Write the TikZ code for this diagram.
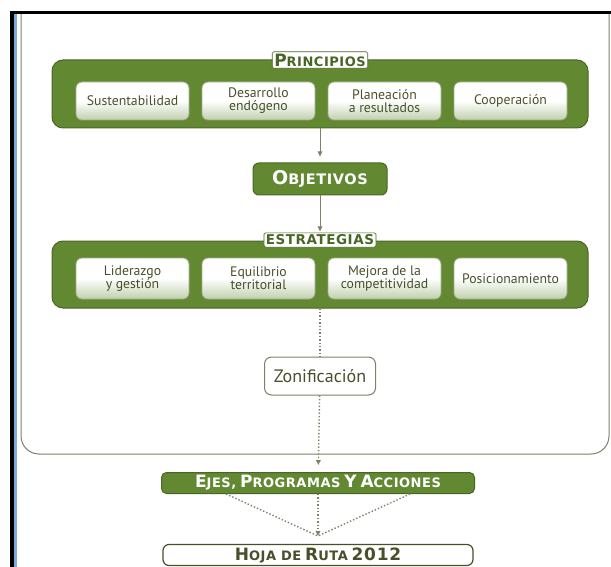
\documentclass[tikz,border=0pt]{standalone}
\usepackage{fontspec}
\setmainfont{PT Sans}
\newfontfamily\titfont[LetterSpace=4.0]{DejaVu Sans}
\usetikzlibrary{arrows.meta}
\definecolor{verde}{RGB}{98,136,50}
\definecolor{verdeosc}{RGB}{74,102,38}
\definecolor{oliva}{RGB}{72,80,42}
\definecolor{gris}{RGB}{128,128,104}
\definecolor{azul}{RGB}{122,172,222}
\newcommand{\vers}[2]{{\fontsize{17}{17}\selectfont #1}{\fontsize{13}{13}\selectfont #2}}

\begin{document}
\begin{tikzpicture}[x=1pt,y=-1pt]
  \tikzset{grupo style/.style = {draw=verdeosc, fill=verde, rounded corners=11pt, line width=1pt, minimum width=536pt},
    caja style/.style = {draw=verdeosc!55, rounded corners=6pt, line width=0.8pt, top color=white, bottom color=verde!40, middle color=white, minimum width=113pt, text=oliva, align=center, font=\fontsize{13.75}{13}\selectfont},
    etiqueta style/.style = {fill=white, draw=verdeosc, line width=0.6pt, rounded corners=1.5pt, inner sep=2pt, text=verdeosc, font=\titfont\bfseries},
    verde style/.style = {fill=verde, draw=verdeosc, line width=1pt, rounded corners=6pt, text=white, font=\titfont\bfseries},
    flecha/.style = {draw=gris, line width=1pt, -{Triangle[length=5pt,width=4.5pt]}},
    punteado/.style = {draw=gris, line width=1.4pt, dotted}}
  \useasboundingbox (0,0) rectangle (611,567);
  \fill[white] (0,0) rectangle (611,567);
  \draw[line width=3pt] (10,12.5) -- (611,12.5);
  \draw[line width=4pt] (12,11) -- (12,567);
  \draw[azul, line width=2.5pt] (15.5,14) -- (15.5,567);
  \draw[gris, line width=1pt, rounded corners=18pt] (21,14) -- (21,454) -- (609,454) -- (609,14);

  \node[grupo style, minimum height=68pt] (principios) at (320,94) {};
  \node[etiqueta style] (lprincipios) at (320,60) {\vers{P}{RINCIPIOS}};
  \node[caja style, minimum height=38pt] (p1) at (132.5,101) {Sustentabilidad};
  \node[caja style, minimum height=38pt] (p2) at (258.5,101) {Desarrollo\\endógeno};
  \node[caja style, minimum height=38pt] (p3) at (384.5,101) {Planeación\\a resultados};
  \node[caja style, minimum height=38pt] (p4) at (510.5,101) {Cooperación};

  \node[verde style, minimum width=134pt, minimum height=32pt] (objetivos) at (320,179) {{\fontsize{19}{19}\selectfont O}{\fontsize{14.5}{14.5}\selectfont BJETIVOS}};

  \node[grupo style, minimum height=67pt] (estrategias) at (320,274.5) {};
  \node[etiqueta style, font=\titfont\bfseries\fontsize{13.5}{14}\selectfont] (lestrategias) at (320,240) {ESTRATEGIAS};
  \node[caja style, minimum height=41pt] (e1) at (132.5,278.5) {Liderazgo\\y gestión};
  \node[caja style, minimum height=41pt] (e2) at (258.5,278.5) {Equilibrio\\territorial};
  \node[caja style, minimum height=41pt] (e3) at (384.5,278.5) {Mejora de la\\competitividad};
  \node[caja style, minimum height=41pt] (e4) at (510.5,278.5) {Posicionamiento};

  \node[draw=gris, line width=1pt, rounded corners=7pt, fill=white, minimum width=111pt, minimum height=38pt, text=oliva, font=\fontsize{18}{18}\selectfont] (zonificacion) at (320,376) {Zonificación};

  \node[verde style, rounded corners=5pt, minimum width=313pt, minimum height=21pt, inner sep=1pt] (ejes) at (318,483) {\vers{E}{JES,} \vers{P}{ROGRAMAS} \vers{Y}{} \vers{A}{CCIONES}};
  \node[draw=oliva, line width=1.2pt, rounded corners=6pt, fill=white, minimum width=310pt, minimum height=21pt, inner sep=1pt, text=oliva, font=\titfont\bfseries] (hoja) at (318,555) {\vers{H}{OJA DE} \vers{R}{UTA} {\fontsize{17}{17}\selectfont 2012}};
  \coordinate (conv) at (318,536);

  \draw[flecha, shorten >=6pt] (principios) -- (objetivos);
  \draw[flecha, shorten >=9pt] (objetivos) -- (estrategias);
  \draw[punteado] (estrategias) -- (zonificacion);
  \draw[punteado, -{Triangle[length=5pt,width=4.5pt]}, shorten >=7pt] (zonificacion) -- (ejes);
  \draw[punteado] ([xshift=-92pt]ejes.south) -- (conv);
  \draw[punteado] ([xshift=92pt]ejes.south) -- (conv);
  \draw[punteado, -{Triangle[length=5pt,width=4.5pt]}] (ejes) -- (conv);
\end{tikzpicture}
\end{document}
